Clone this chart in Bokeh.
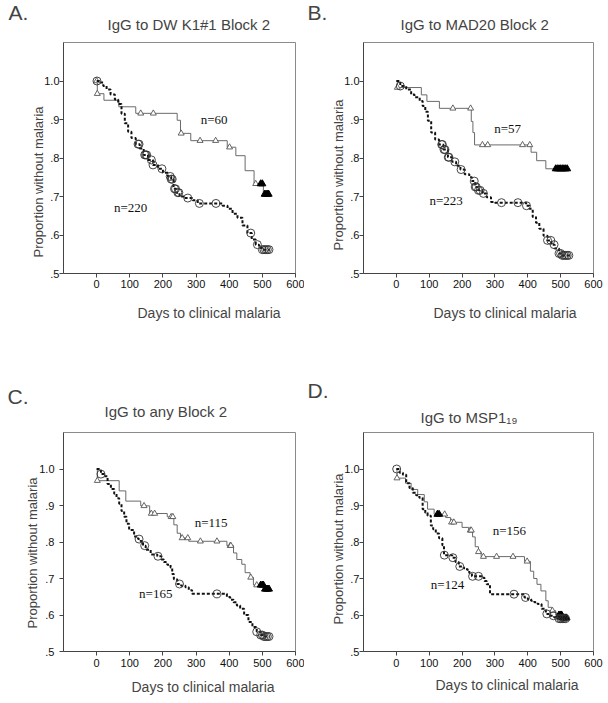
import numpy as np
from bokeh.plotting import figure
from bokeh.layouts import gridplot
from bokeh.models import Range1d, FixedTicker, CustomJSTickFormatter, Label, Title
from bokeh.embed import file_html
from bokeh.resources import INLINE

# ---------------- data ----------------
# Panel A: IgG to DW K1#1 Block 2
a_pos_t = [0, 2, 22, 67, 118, 243, 253, 284, 394, 420, 448, 475, 503, 522]
a_pos_s = [1.0, 0.967, 0.95, 0.933, 0.916, 0.898, 0.864, 0.845, 0.828, 0.806, 0.767, 0.733, 0.706, 0.706]
a_pos_cens = [0, 2, 133, 171, 255, 312, 359, 401, 480]
a_pos_cens_end = [495, 500, 507, 511, 515, 519]
a_neg_t = [0, 8, 20, 30, 42, 55, 65, 75, 85, 95, 105, 118, 130, 142, 155, 170, 185, 200, 215, 225,
           232, 240, 250, 265, 290, 305, 380, 395, 410, 425, 440, 455, 468, 480, 490, 500, 522]
a_neg_s = [1.0, 0.996, 0.987, 0.978, 0.965, 0.952, 0.94, 0.915, 0.89, 0.868, 0.852, 0.836, 0.825,
           0.808, 0.795, 0.782, 0.772, 0.762, 0.752, 0.745, 0.72, 0.71, 0.70, 0.696, 0.69, 0.682,
           0.676, 0.668, 0.655, 0.645, 0.625, 0.605, 0.588, 0.575, 0.566, 0.562, 0.562]
a_neg_cens = [1, 125, 128, 145, 148, 151, 165, 170, 197, 222, 225, 228, 235, 238, 245, 248, 275,
              310, 360, 465, 485, 500, 505, 510, 515, 520]
a_n_labels = ["n=60", "n=220"]

# Panel B: IgG to MAD20 Block 2
b_pos_t = [0, 3, 76, 93, 131, 228, 233, 238, 410, 427, 455, 522]
b_pos_s = [1.0, 0.983, 0.964, 0.947, 0.929, 0.895, 0.866, 0.834, 0.815, 0.793, 0.772, 0.772]
b_pos_cens = [3, 172, 226, 262, 278, 384, 406]
b_pos_cens_end = [485, 490, 495, 500, 505, 510, 515, 520]
b_neg_t = [0, 12, 30, 45, 55, 71, 80, 88, 96, 106, 118, 130, 143, 157, 170, 182, 195, 208, 222,
           230, 240, 250, 262, 275, 288, 300, 395, 405, 415, 425, 435, 448, 460, 472, 482, 495,
           505, 528]
b_neg_s = [1.0, 0.987, 0.978, 0.965, 0.958, 0.948, 0.935, 0.92, 0.897, 0.866, 0.848, 0.835, 0.822,
           0.802, 0.79, 0.78, 0.77, 0.758, 0.75, 0.74, 0.725, 0.716, 0.708, 0.698, 0.686, 0.684,
           0.676, 0.668, 0.647, 0.632, 0.616, 0.598, 0.586, 0.575, 0.565, 0.552, 0.547, 0.545]
b_neg_cens = [12, 138, 140, 145, 148, 158, 160, 178, 197, 237, 240, 243, 250, 255, 265, 320, 370,
              396, 460, 470, 480, 495, 500, 505, 510, 515, 520, 525]
b_n_labels = ["n=57", "n=223"]

# Panel C: IgG to any Block 2
c_pos_t = [0, 2, 68, 88, 133, 160, 213, 233, 243, 253, 278, 393, 413, 423, 438, 448, 463, 473,
           508, 522]
c_pos_s = [1.0, 0.968, 0.94, 0.912, 0.899, 0.878, 0.869, 0.847, 0.824, 0.811, 0.802, 0.79, 0.77,
           0.752, 0.739, 0.716, 0.703, 0.682, 0.671, 0.671]
c_pos_cens = [2, 143, 165, 175, 225, 230, 258, 275, 313, 363, 403, 405, 465, 483]
c_pos_cens_end = [495, 500, 503, 508, 512, 516, 520]
c_neg_t = [0, 13, 23, 33, 43, 53, 60, 68, 75, 83, 90, 98, 113, 125, 133, 140, 148, 163, 183, 195,
           203, 213, 223, 228, 233, 243, 255, 268, 278, 288, 393, 403, 413, 423, 433, 445, 458,
           470, 483, 495, 503, 522]
c_neg_s = [1.0, 0.986, 0.98, 0.959, 0.945, 0.932, 0.92, 0.905, 0.885, 0.869, 0.85, 0.833, 0.815,
           0.808, 0.802, 0.79, 0.779, 0.766, 0.761, 0.752, 0.745, 0.738, 0.73, 0.712, 0.698, 0.685,
           0.68, 0.676, 0.668, 0.658, 0.649, 0.642, 0.635, 0.626, 0.617, 0.6, 0.581, 0.567, 0.554,
           0.545, 0.541, 0.541]
c_neg_cens = [13, 128, 145, 185, 250, 363, 483, 495, 500, 505, 510, 515, 520]
c_n_labels = ["n=115", "n=165"]

# Panel D: IgG to MSP1-19
d_pos_t = [0, 2, 28, 45, 65, 85, 95, 115, 150, 165, 200, 220, 232, 240, 250, 258, 390, 408, 418,
           428, 440, 455, 462, 473, 485, 505, 522]
d_pos_s = [1.0, 0.975, 0.961, 0.944, 0.93, 0.91, 0.89, 0.876, 0.867, 0.854, 0.84, 0.832, 0.814,
           0.787, 0.773, 0.76, 0.747, 0.72, 0.70, 0.684, 0.666, 0.639, 0.621, 0.612, 0.6, 0.592,
           0.592]
d_pos_cens = [2, 147, 168, 175, 225, 228, 250, 265, 305, 355, 398, 475]
d_pos_cens_end = [125, 130, 495, 500, 503, 506, 510, 514, 518]
d_neg_t = [0, 10, 20, 30, 40, 50, 60, 70, 80, 88, 95, 105, 112, 120, 130, 140, 145, 170, 180, 190,
           205, 215, 222, 230, 260, 268, 275, 285, 390, 400, 410, 420, 430, 442, 455, 468, 480,
           490, 520]
d_neg_s = [1.0, 0.99, 0.984, 0.961, 0.948, 0.935, 0.928, 0.921, 0.89, 0.88, 0.872, 0.845, 0.835,
           0.823, 0.81, 0.791, 0.764, 0.757, 0.745, 0.733, 0.728, 0.724, 0.715, 0.706, 0.702,
           0.693, 0.684, 0.657, 0.648, 0.643, 0.639, 0.635, 0.63, 0.617, 0.603, 0.598, 0.594,
           0.59, 0.59]
d_neg_cens = [1, 146, 172, 193, 232, 250, 358, 393, 458, 478, 495, 500, 505, 510, 515]
d_n_labels = ["n=156", "n=124"]

x_ticks = [0, 100, 200, 300, 400, 500, 600]
y_ticks = [0.5, 0.6, 0.7, 0.8, 0.9, 1.0]
x_label = "Days to clinical malaria"
y_label = "Proportion without malaria"

# ---------------- layout constants ----------------
X0, X1 = -100, 600
Y0, Y1 = 0.5, 1.1
SANS = "Liberation Sans"
SERIF = "Liberation Serif"


def surv_at(t, s, tc):
    idx = np.searchsorted(np.asarray(t), np.asarray(tc), side="right") - 1
    return np.asarray(s)[np.clip(idx, 0, len(s) - 1)]


def make_panel(fig_box, frame_box, letter, title, labels, pos, neg, n_pos_xy, n_neg_xy,
               offs, stands):
    fx, fy, W, H = fig_box
    L, T, fw, fh = frame_box
    left = L - fx
    top = T - fy
    right = W - left - fw
    bottom = H - top - fh
    ystand, xstand, st_title, st_letter, st_xlab, st_ylab = stands
    p = figure(width=W, height=H, x_range=Range1d(X0, X1), y_range=Range1d(Y0, Y1),
               output_backend="svg", toolbar_location=None,
               min_border_left=left, min_border_right=right,
               min_border_top=top, min_border_bottom=bottom)
    p.xgrid.visible = False
    p.ygrid.visible = False
    p.outline_line_color = "#8a8a8a"
    p.outline_line_width = 1
    p.background_fill_color = "white"
    p.border_fill_color = "white"

    for ax in (p.xaxis[0], p.yaxis[0]):
        ax.axis_line_color = "#444444"
        ax.major_tick_line_color = "#444444"
        ax.minor_tick_line_color = None
        ax.major_tick_out = 4
        ax.major_tick_in = 0
        ax.major_label_text_font = SANS
        ax.major_label_text_font_size = "11px"
        ax.major_label_text_color = "#111111"
    p.xaxis.ticker = FixedTicker(ticks=x_ticks)
    p.yaxis.ticker = FixedTicker(ticks=y_ticks)
    p.yaxis.formatter = CustomJSTickFormatter(
        code="return (Math.abs(tick - 1) < 1e-6) ? '1.0' : '.' + Math.round(tick * 10);")
    p.yaxis.major_label_standoff = ystand
    p.xaxis.major_label_standoff = xstand

    pt, ps, pc, pce = pos
    nt, ns, nc = neg
    # antibody positive group (grey solid)
    p.step(pt, ps, mode="after", line_color="#6a6a6a", line_width=1)
    p.scatter(pc, surv_at(pt, ps, pc), marker="triangle", size=6, line_color="#555555",
              fill_color="white", line_width=0.9)
    p.scatter(pce, surv_at(pt, ps, pce), marker="triangle", size=7, line_color="black",
              fill_color="black")
    # antibody negative group (black dotted)
    p.step(nt, ns, mode="after", line_color="#111111", line_width=2, line_dash="3 2")
    p.scatter(nc, surv_at(nt, ns, nc), marker="circle", size=8, line_color="#333333",
              fill_alpha=0, line_width=0.9)

    for txt, xy in ((labels[0], n_pos_xy), (labels[1], n_neg_xy)):
        p.add_layout(Label(x=xy[0], y=xy[1], text=txt, text_font=SERIF,
                           text_font_size="13px", text_baseline="middle", text_align="left",
                           text_color="#111111"))

    t_off, l_off, x_off, y_off = offs
    # panel letter (outermost title row)
    p.title.text = letter
    p.title.align = "left"
    p.title.offset = l_off
    p.title.text_font = SANS
    p.title.text_font_size = "21px"
    p.title.text_font_style = "normal"
    p.title.standoff = st_letter
    # panel title (row nearest the frame)
    p.add_layout(Title(text=title, align="left", offset=t_off, text_font=SANS,
                       text_font_size="15px", text_font_style="normal", standoff=st_title),
                 "above")
    p.add_layout(Title(text=x_label, align="left", offset=x_off, text_font=SANS,
                       text_font_size="14px", text_font_style="normal", standoff=st_xlab),
                 "below")
    p.add_layout(Title(text=y_label, align="left", offset=y_off, text_font=SANS,
                       text_font_size="13px", text_font_style="normal", standoff=st_ylab),
                 "left")
    return p


pA = make_panel((0, 0, 304, 340), (63, 42, 232, 231), "A.", "IgG to DW K1#1 Block 2", a_n_labels,
                (a_pos_t, a_pos_s, a_pos_cens, a_pos_cens_end), (a_neg_t, a_neg_s, a_neg_cens),
                (314, 0.899), (52, 0.672), (44, -55, 74, 16), (0, 2, 19, -39, 24, -8))
pB = make_panel((304, 0, 304, 340), (363, 42, 232, 231), "B.", "IgG to MAD20 Block 2", b_n_labels,
                (b_pos_t, b_pos_s, b_pos_cens, b_pos_cens_end), (b_neg_t, b_neg_s, b_neg_cens),
                (298, 0.877), (101, 0.69), (37, -56, 70, 23), (0, 2, 19, -39, 24, -8))
pC = make_panel((0, 340, 304, 362), (62, 432, 233, 221), "C.", "IgG to any Block 2", c_n_labels,
                (c_pos_t, c_pos_s, c_pos_cens, c_pos_cens_end), (c_neg_t, c_neg_s, c_neg_cens),
                (296, 0.853), (128, 0.658), (41, -56, 68, 23), (5, 3, 25, -38, 15, -6))
pD = make_panel((304, 340, 304, 362), (363, 432, 230, 223), "D.", "IgG to MSP1\u2081\u2089", d_n_labels,
                (d_pos_t, d_pos_s, d_pos_cens, d_pos_cens_end), (d_neg_t, d_neg_s, d_neg_cens),
                (293, 0.832), (105, 0.684), (57, -56, 72, 27), (0, 3, 13, -2, 11, -8))

grid = gridplot([[pA, pB], [pC, pD]], toolbar_location=None)
open("out.html", "w").write(file_html(grid, INLINE))
